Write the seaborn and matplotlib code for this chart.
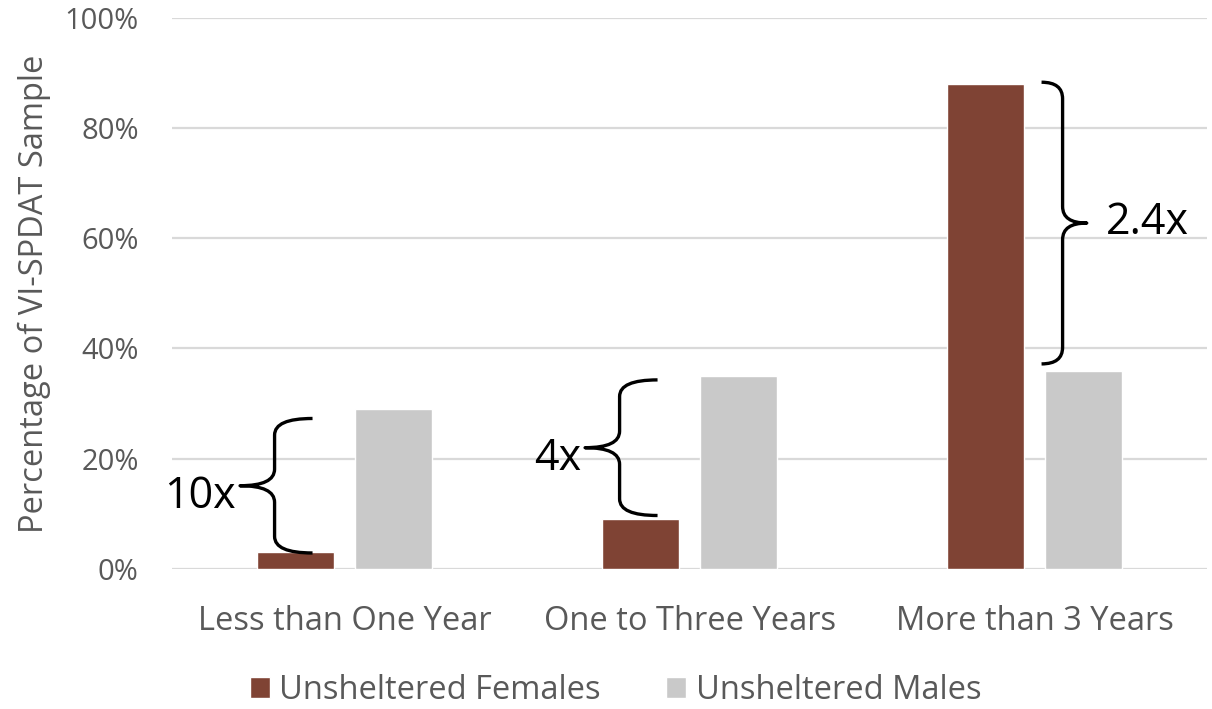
import numpy as np
import pandas as pd
import matplotlib
matplotlib.use("Agg")
import matplotlib.pyplot as plt
from matplotlib.path import Path
from matplotlib.patches import PathPatch
from matplotlib.ticker import PercentFormatter
import seaborn as sns

periods = ["Less than One Year", "One to Three Years", "More than 3 Years"]
groups = ["Unsheltered Females", "Unsheltered Males"]
females = [0.03, 0.09, 0.88]
males = [0.29, 0.35, 0.36]

# brace annotations: label, span low/high (share), side the tip points to
ratio_labels = ["10x", "4x", "2.4x"]
brace_lo = [0.029, 0.097, 0.372]
brace_hi = [0.273, 0.343, 0.883]
brace_side = ["left", "left", "right"]

BROWN = "#7F4334"
GRAY = "#C9C9C9"
TEXT = "#595959"

df = pd.DataFrame({
    "period": periods * 2,
    "share": females + males,
    "group": [groups[0]] * 3 + [groups[1]] * 3,
})

sns.set_style("white")
plt.rcParams["font.family"] = ["Open Sans", "DejaVu Sans"]

fig = plt.figure(figsize=(12.12, 7.09), dpi=100)
ax = fig.add_axes([0.142, 0.1975, 0.854, 0.7775])

sns.barplot(
    data=df, x="period", y="share", hue="group",
    palette=[BROWN, GRAY], saturation=1,
    width=0.57, gap=0.22, ax=ax, legend=True,
)

ax.set_xlim(-0.5, 2.5)
ax.set_ylim(0, 1.0)
ax.set_yticks(np.arange(0, 1.01, 0.2))
ax.yaxis.set_major_formatter(PercentFormatter(1.0, decimals=0))
ax.grid(axis="y", color="#D9D9D9", linewidth=1.6)
ax.set_axisbelow(True)
for s in ax.spines.values():
    s.set_visible(False)
ax.tick_params(axis="both", length=0, colors=TEXT)
ax.tick_params(axis="x", pad=26, labelsize=23.5)
ax.tick_params(axis="y", pad=24, labelsize=21)
ax.set_xlabel("")
ax.set_ylabel("Percentage of VI-SPDAT Sample", color=TEXT, fontsize=23.5)
ax.yaxis.set_label_coords(-0.117, 0.5)


def draw_brace(ax, xc, lo, hi, side):
    # xc: category centre; brace sits just beside the female bar
    if side == "left":
        x0 = xc - 0.203
        xa = x0 + 0.11
        xt = x0 - 0.10
    else:
        x0 = xc + 0.081
        xa = x0 - 0.061
        xt = x0 + 0.07
    mid = (lo + hi) / 2
    r = 0.03
    verts = [
        (xa, hi), (x0, hi), (x0, hi - r),
        (x0, mid + r), (x0, mid), (xt, mid),
        (x0, mid), (x0, mid - r),
        (x0, lo + r), (x0, lo), (xa, lo),
    ]
    codes = [
        Path.MOVETO, Path.CURVE3, Path.CURVE3,
        Path.LINETO, Path.CURVE3, Path.CURVE3,
        Path.CURVE3, Path.CURVE3,
        Path.LINETO, Path.CURVE3, Path.CURVE3,
    ]
    ax.add_patch(PathPatch(Path(verts, codes), fill=False,
                           edgecolor="black", linewidth=2.4,
                           capstyle="butt", joinstyle="round"))
    return xt, mid


for i, lab in enumerate(ratio_labels):
    xt, mid = draw_brace(ax, i, brace_lo[i], brace_hi[i], brace_side[i])
    if brace_side[i] == "left":
        ax.text(xt - 0.012, mid - 0.02, lab, ha="right", va="center",
                fontsize=31, color="black")
    else:
        ax.text(xt + 0.055, mid + 0.0, lab, ha="left", va="center",
                fontsize=31, color="black")

handles, labels = ax.get_legend_handles_labels()
ax.get_legend().remove()
fig.legend(handles, labels, loc="center", bbox_to_anchor=(0.508, 0.026),
           ncol=2, frameon=False, fontsize=23.5, labelcolor=TEXT,
           handlelength=0.6, handleheight=0.6, handletextpad=0.3,
           columnspacing=2.0)

fig.savefig("out.png", dpi=100)
